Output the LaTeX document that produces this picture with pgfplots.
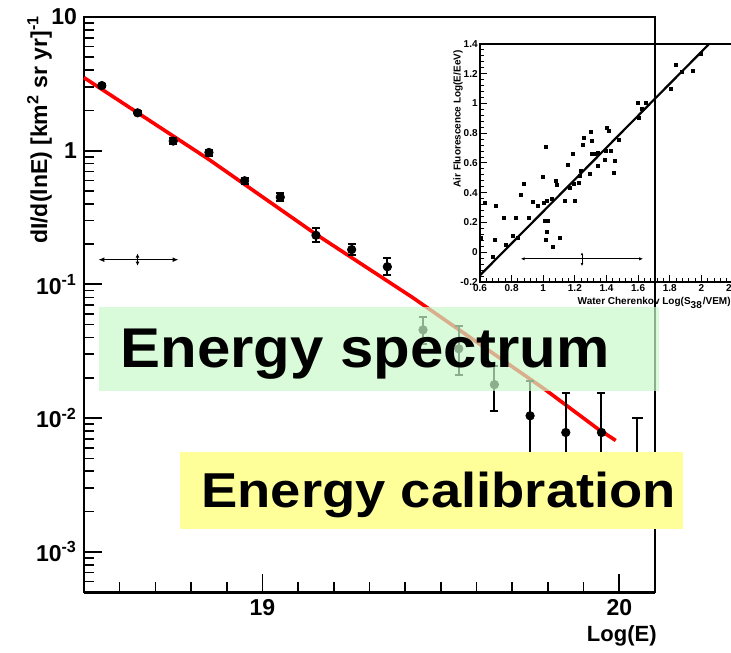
\documentclass[border=0pt]{standalone}
\usepackage{fontspec}
\setmainfont{Liberation Sans}
\usepackage{pgfplots}
\pgfplotsset{compat=1.18}
\usetikzlibrary{arrows.meta}
\definecolor{gbox}{RGB}{201,249,201}
\definecolor{ybox}{RGB}{255,255,153}
\begin{document}
\begin{tikzpicture}[font=\bfseries]
\begin{axis}[name=main, at={(0,0)}, anchor=south west, scale only axis,
  width=285.5pt, height=287.5pt,
  xmin=18.5, xmax=20.1, ymode=log, ymin=5e-4, ymax=10,
  xtick={19,20}, xticklabels={19,20},
  minor xtick={18.6,18.7,18.8,18.9,19.1,19.2,19.3,19.4,19.5,19.6,19.7,19.8,19.9},
  ytick={0.001,0.01,0.1,1,10},
  yticklabels={10\textsuperscript{-3},10\textsuperscript{-2},10\textsuperscript{-1},1,10},
  minor ytick={6e-4,7e-4,8e-4,9e-4,2e-3,3e-3,4e-3,5e-3,6e-3,7e-3,8e-3,9e-3,0.02,0.03,0.04,0.05,0.06,0.07,0.08,0.09,0.2,0.3,0.4,0.5,0.6,0.7,0.8,0.9,2,3,4,5,6,7,8,9},
  tick pos=left, tick align=inside,
  major tick length=9pt, minor tick length=5pt,
  every tick/.style={black, line width=0.9pt},
  every minor tick/.style={black, line width=0.8pt},
  axis line style={line width=0.9pt},
  ticklabel style={font=\bfseries\fontsize{11.5}{12}\selectfont},
  /pgf/number format/assume math mode=true,
  clip=false,
]
\addplot[red, line width=1.8pt] coordinates {
  (18.5,3.52) (18.85,0.86) (19.15,0.237) (19.42,0.080) (19.79,0.0165) (19.94,0.0083) (19.99,0.0068)};
\addplot[only marks, mark=*, mark size=2.1pt, black,
  error bars/.cd, y dir=both, y explicit,
  error bar style={line width=1pt},
  error mark options={rotate=90, mark size=2pt, line width=1pt}]
coordinates {
  (18.55,3.07) += (0,0.10) -= (0,0.10)
  (18.65,1.92) += (0,0.07) -= (0,0.07)
  (18.75,1.18) += (0,0.06) -= (0,0.06)
  (18.85,0.97) += (0,0.05) -= (0,0.05)
  (18.95,0.596) += (0,0.03) -= (0,0.03)
  (19.05,0.449) += (0,0.03) -= (0,0.03)
  (19.15,0.233) += (0,0.030) -= (0,0.026)
  (19.25,0.182) += (0,0.020) -= (0,0.017)
  (19.35,0.1355) += (0,0.022) -= (0,0.018)
  (19.45,0.0457) += (0,0.0118) -= (0,0.010)
  (19.55,0.033) += (0,0.0158) -= (0,0.012)
  (19.65,0.0178) += (0,0.0066) -= (0,0.0066)
  (19.75,0.0104) += (0,0.0085) -= (0,0.0074)
  (19.85,0.0078) += (0,0.0077) -= (0,0.0050)
  (19.95,0.0078) += (0,0.0077) -= (0,0.0050)
};
\addplot[black, line width=1pt] coordinates {(20.05,0.003) (20.05,0.01)};
\addplot[black, line width=1pt] coordinates {(20.035,0.01) (20.065,0.01)};
\addplot[black, line width=0.6pt, {Latex[length=3pt,width=2.4pt]}-{Latex[length=3pt,width=2.4pt]}] coordinates {(18.54,0.153) (18.765,0.153)};
\addplot[black, line width=0.6pt, {Latex[length=2pt,width=2pt]}-{Latex[length=2pt,width=2pt]}] coordinates {(18.65,0.138) (18.65,0.170)};
\end{axis}
\draw[line width=1.5pt] (main.south west) -- (main.south east);
\node[anchor=east, font=\bfseries\fontsize{11}{12}\selectfont, inner sep=0] at (286.5pt,-22pt) {Log(E)};
\node[rotate=90, anchor=base east, font=\bfseries\fontsize{11.5}{12}\selectfont, inner sep=0] at (-18.5pt,288.5pt) {dI/d(lnE) [km\textsuperscript{2} sr yr]\textsuperscript{-1}};

\begin{axis}[name=inset, at={(198pt,155pt)}, anchor=south west, scale only axis,
  width=126.5pt, height=119pt,
  xmin=0.6, xmax=2.2, ymin=-0.2, ymax=1.4,
  xtick={0.6,0.8,1,1.2,1.4,1.6,1.8,2,2.2},
  xticklabels={0.6,0.8,1,1.2,1.4,1.6,1.8,2,2.2},
  ytick={-0.2,0,0.2,0.4,0.6,0.8,1,1.2,1.4},
  yticklabels={-0.2,0,0.2,0.4,0.6,0.8,1,1.2,1.4},
  minor tick num=4,
  tick pos=left, tick align=inside,
  major tick length=3.5pt, minor tick length=2pt,
  every tick/.style={black, line width=0.5pt},
  every minor tick/.style={black, line width=0.5pt},
  axis line style={line width=0.6pt},
  ticklabel style={font=\bfseries\fontsize{5}{5}\selectfont, inner sep=1pt},
  /pgf/number format/assume math mode=true,
  clip=false,
]
\addplot[black, line width=1.1pt] coordinates {(0.6,-0.155) (2.049,1.4)};
\addplot[only marks, mark=square*, mark size=0.75pt, black] coordinates {
(0.606,0.094) (0.634,0.33) (0.702,0.313) (0.681,-0.033) (0.696,0.085) (0.751,0.228)
(0.762,0.05) (0.809,0.112) (0.826,0.228) (0.840,0.094) (0.857,0.384) (0.879,0.457)
(0.911,0.228) (0.932,0.339) (0.968,0.313) (0.996,0.509) (1.006,0.335) (1.021,0.346)
(1.015,0.709) (1.011,0.212) (1.032,0.212) (1.021,0.134) (1.015,0.085) (1.053,0.357)
(1.06,0.034) (1.079,0.480) (1.085,0.451) (1.106,0.094) (1.138,0.346) (1.155,0.584)
(1.166,0.435) (1.187,0.658) (1.191,0.457) (1.202,0.346) (1.223,0.464) (1.234,0.513)
(1.240,0.547) (1.249,0.725) (1.255,0.769) (1.298,0.524) (1.304,0.807) (1.309,0.747)
(1.309,0.658) (1.326,0.658) (1.347,0.669) (1.347,0.580) (1.389,0.624) (1.394,0.680)
(1.400,0.836) (1.415,0.814) (1.426,0.680) (1.453,0.613) (1.447,0.531) (1.479,0.758)
(1.596,1.003) (1.606,0.903) (1.649,1.003) (1.623,0.963) (1.809,1.097) (1.840,1.260)
(1.879,1.215) (1.947,1.222) (2.000,1.333)
};
\addplot[black, line width=0.5pt, {Latex[length=2pt,width=1.6pt]}-{Latex[length=2pt,width=1.6pt]}] coordinates {(0.857,-0.044) (1.632,-0.044)};
\addplot[black, line width=0.5pt, {Latex[length=1.5pt,width=1.4pt]}-{Latex[length=1.5pt,width=1.4pt]}] coordinates {(1.245,-0.0) (1.245,-0.093)};
\end{axis}
\node[anchor=east, font=\bfseries\fontsize{5}{5}\selectfont, inner sep=0] at (323.5pt,144.5pt) {Water Cherenkov Log(S\textsubscript{38}/VEM)};
\node[rotate=90, anchor=east, font=\bfseries\fontsize{5}{5}\selectfont, inner sep=0] at (187pt,271pt) {Air Fluorescence Log(E/EeV)};

\fill[gbox, opacity=0.7] (7.5pt,100.5pt) rectangle (287.5pt,142.5pt);
\node[anchor=base west, inner sep=0, font=\bfseries\fontsize{28}{28}\selectfont, xscale=1.07] at (18pt,112pt) {Energy spectrum};
\fill[ybox] (48pt,31.5pt) rectangle (299.5pt,70pt);
\node[anchor=base west, inner sep=0, font=\bfseries\fontsize{24.5}{25}\selectfont, xscale=1.11] at (58.5pt,42.5pt) {Energy calibration};

\pgfresetboundingbox
\path (-42pt,-30pt) rectangle (323.5pt,296pt);
\end{tikzpicture}
\end{document}
